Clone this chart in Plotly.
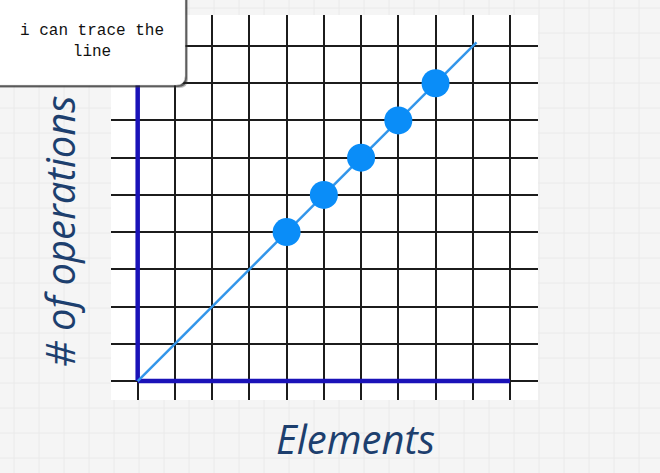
import plotly.graph_objects as go

# ---- data ----
x_grid = list(range(0, 11))          # vertical grid lines (elements)
y_grid = list(range(0, 10))          # horizontal grid lines (operations)
line_x = [0, 9.1]                    # traced O(n) line
line_y = [0, 9.1]
pts_x = [4, 5, 6, 7, 8]              # highlighted points
pts_y = [4, 5, 6, 7, 8]
yaxis_line_x = [0, 0]
yaxis_line_y = [0, 9.3]
xaxis_line_x = [0, 10]
xaxis_line_y = [0, 0]
callout_text = "i can trace the<br>line"
x_title = "Elements"
y_title = "# of operations"

# ---- layout geometry (pixels) ----
W, H = 660, 473
L, R, T, B = 111, 538, 15, 400
PW, PH = R - L, B - T


def px(x):
    return (x - L) / PW


def py(y):
    return (B - y) / PH


fig = go.Figure()

fig.add_trace(go.Scatter(x=yaxis_line_x, y=yaxis_line_y, mode="lines",
                         line=dict(color="#1a12b8", width=4.5), hoverinfo="skip"))
fig.add_trace(go.Scatter(x=xaxis_line_x, y=xaxis_line_y, mode="lines",
                         line=dict(color="#1a12b8", width=4.5), hoverinfo="skip"))
fig.add_trace(go.Scatter(x=line_x, y=line_y, mode="lines",
                         line=dict(color="#3396ea", width=2.5), hoverinfo="skip"))
fig.add_trace(go.Scatter(x=pts_x, y=pts_y, mode="markers",
                         marker=dict(color="#0a8df8", size=28, line=dict(width=0))))

shapes = []
# faint paper background grid
segs = []
for gx in range(14, W, 25):
    segs.append(f"M{px(gx)},{py(0)} L{px(gx)},{py(H)}")
for gy in range(8, H, 25):
    segs.append(f"M{px(0)},{py(gy)} L{px(W)},{py(gy)}")
shapes.append(dict(type="path", xref="paper", yref="paper", path=" ".join(segs),
                   line=dict(color="#eaeaea", width=1), layer="below"))
# white drawing area
shapes.append(dict(type="rect", xref="paper", yref="paper", x0=0, x1=1, y0=0, y1=1,
                   fillcolor="white", line=dict(width=0), layer="below"))


def rounded(x0, y0, x1, y1, r):
    p = [
        f"M{px(x0 + r)},{py(y0)}",
        f"L{px(x1 - r)},{py(y0)}",
        f"Q{px(x1)},{py(y0)} {px(x1)},{py(y0 + r)}",
        f"L{px(x1)},{py(y1 - r)}",
        f"Q{px(x1)},{py(y1)} {px(x1 - r)},{py(y1)}",
        f"L{px(x0 + r)},{py(y1)}",
        f"Q{px(x0)},{py(y1)} {px(x0)},{py(y1 - r)}",
        f"L{px(x0)},{py(y0 + r)}",
        f"Q{px(x0)},{py(y0)} {px(x0 + r)},{py(y0)}",
        "Z",
    ]
    return " ".join(p)


# callout shadow + box
shapes.append(dict(type="path", xref="paper", yref="paper",
                   path=rounded(-8, -8, 188, 88, 9),
                   fillcolor="rgba(60,60,60,0.35)", line=dict(width=0), layer="above"))
shapes.append(dict(type="path", xref="paper", yref="paper",
                   path=rounded(-8, -8, 187, 87, 9),
                   fillcolor="rgba(30,30,30,0.6)", line=dict(width=0), layer="above"))
shapes.append(dict(type="path", xref="paper", yref="paper",
                   path=rounded(-10, -10, 185, 85, 9),
                   fillcolor="white", line=dict(color="#e0e0e0", width=0.5), layer="above"))

annotations = [
    dict(text=callout_text, xref="paper", yref="paper", x=px(92), y=py(41),
         showarrow=False, xanchor="center", yanchor="middle",
         font=dict(family="Liberation Mono, Courier New, monospace", size=16, color="#111111")),
    dict(text=x_title, xref="paper", yref="paper", x=px(355), y=py(439),
         showarrow=False, xanchor="center", yanchor="middle",
         font=dict(family="Open Sans", size=40, color="#1d3f6e", style="italic")),
    dict(text=y_title, xref="paper", yref="paper", x=px(59), y=py(231),
         showarrow=False, xanchor="center", yanchor="middle", textangle=-90,
         font=dict(family="Open Sans", size=40, color="#1d3f6e", style="italic")),
]

fig.update_layout(
    width=W, height=H,
    margin=dict(l=L, r=W - R, t=T, b=H - B, pad=0),
    paper_bgcolor="#f5f5f5",
    plot_bgcolor="rgba(0,0,0,0)",
    showlegend=False,
    shapes=shapes,
    annotations=annotations,
    xaxis=dict(range=[-0.717, 10.752], tickvals=x_grid, showticklabels=False,
               showgrid=True, gridcolor="#1c1c1c", gridwidth=1.5, zeroline=False,
               showline=False, ticks="", fixedrange=True),
    yaxis=dict(range=[-0.51, 9.833], tickvals=y_grid, showticklabels=False,
               showgrid=True, gridcolor="#1c1c1c", gridwidth=1.5, zeroline=False,
               showline=False, ticks="", fixedrange=True),
)

fig.write_html("out.html", config={"displayModeBar": False},
               post_script="document.body.style.margin='0';document.body.style.overflow='hidden';")
